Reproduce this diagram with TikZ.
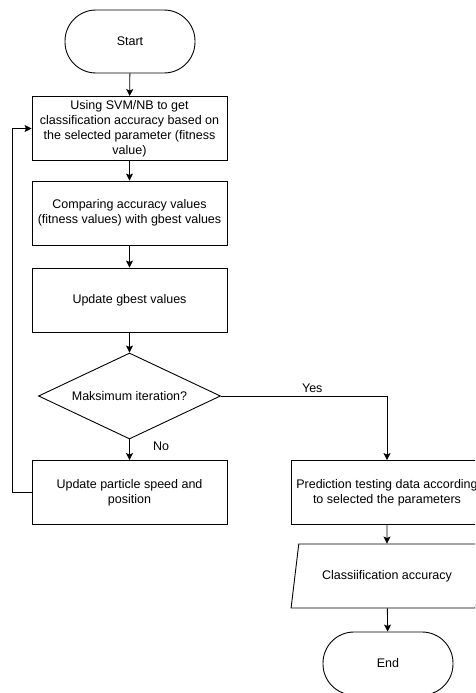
\documentclass[tikz,border=0pt]{standalone}
\usepackage{fontspec}
\setmainfont{Liberation Sans}
\usetikzlibrary{shapes.geometric,arrows.meta}

\begin{document}
\begin{tikzpicture}[x=1pt,y=-1pt,
  every node/.style={font=\fontsize{12.5}{15}\selectfont},
  proc/.style={draw,line width=0.9pt,minimum width=195pt,minimum height=64pt,align=center,inner sep=2pt},
  term/.style={draw,line width=0.9pt,rounded corners=31pt,minimum width=130pt,minimum height=63pt},
  decis/.style={draw,diamond,aspect=2.1,line width=0.9pt,minimum width=182pt,minimum height=86pt,inner sep=0pt},
  iobox/.style={draw,trapezium,trapezium left angle=72,trapezium right angle=108,trapezium stretches=true,line width=0.9pt,minimum width=192pt,minimum height=64pt},
  flow/.style={line width=0.9pt,-{Stealth[length=7pt,width=7pt,inset=1.5pt]}}]
\useasboundingbox (0,0) rectangle (475,693);
\clip (0,0) rectangle (475,693);
\fill[white] (0,0) rectangle (475,693);
% Drawing boxes
\node[term] (start) at (130,41.5) {Start};
\node[proc] (svm) at (129.5,128.5) {Using SVM/NB to get\\classification accuracy based on\\the selected parameter (fitness\\value)};
\node[proc] (compare) at (129.5,213) {Comparing accuracy values\\(fitness values) with gbest values};
\node[proc] (gbest) at (129.5,300) {Update gbest values};
\node[decis] (maxit) at (129.5,396) {Maksimum iteration?};
\node[proc] (particle) at (129.5,492.5) {Update particle speed and\\position};
\node[proc,minimum width=192pt] (predict) at (387,492.5) {Prediction testing data according\\to selected the parameters};
\node[iobox] (acc) at (387,576) {Classiification accuracy};
\node[term] (end) at (388,663.5) {End};
\coordinate (loop) at (12,0);
% Done with boxes; drawing arrows
\draw[flow] (start) -- (svm);
\draw[flow] (svm) -- (compare);
\draw[flow] (compare) -- (gbest);
\draw[flow] (gbest) -- (maxit);
\draw[flow] (maxit) -- node[pos=0.33,xshift=31.5pt] {No} (particle);
\draw[flow] (maxit.east) -| node[above,pos=0.275] {Yes} (predict.north);
\draw[flow] (particle.west) -- (particle.west -| loop) |- (svm.west);
\draw[flow] (predict) -- (acc);
\draw[flow] (acc) -- (end);
% Done with arrows
\end{tikzpicture}
\end{document}
